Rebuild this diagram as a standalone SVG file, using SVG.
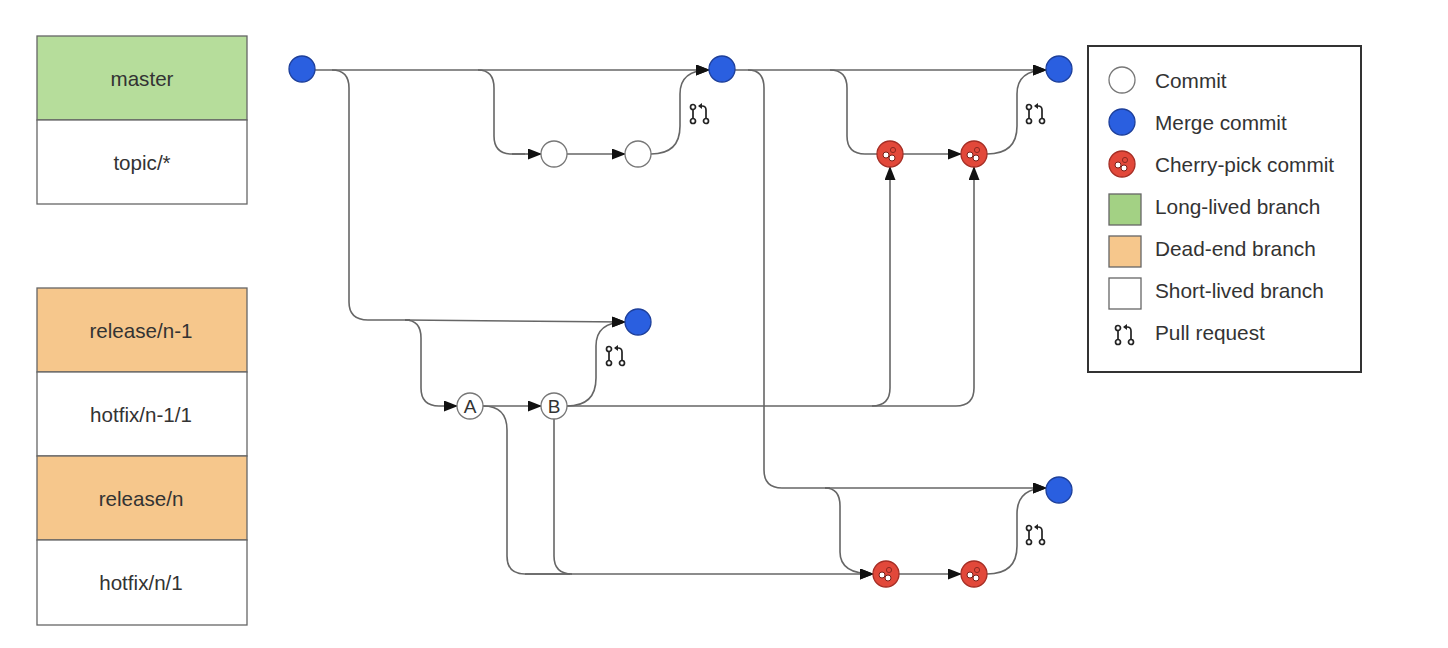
<svg xmlns="http://www.w3.org/2000/svg" width="1448" height="648" viewBox="0 0 1448 648">
<style>
text{font-family:"Liberation Sans",Arial,sans-serif;font-size:20.6px;fill:#333}
.m{text-anchor:middle}
.b{stroke:#666;stroke-width:1.3}
.g{fill:#b6dd9b}.o{fill:#f6c78c}.w{fill:#fff}
.c{fill:none;stroke:#666;stroke-width:1.6}
.a{marker-end:url(#ah)}
.merge{fill:#2a5fe0;stroke:#1d3f9a;stroke-width:1.3}
.commit{fill:#fff;stroke:#777;stroke-width:1.3}
.lt{font-size:20.8px;fill:#333}
</style>
<defs>
<marker id="ah" markerUnits="userSpaceOnUse" markerWidth="14" markerHeight="11" refX="13" refY="5.500" orient="auto"><path d="M0 0L14 5.500L0 11Z" fill="#111"/></marker>
<g id="cherry"><circle r="13" fill="#e2483a" stroke="#a52e25" stroke-width="1.3"/><circle cx="-4" cy="1" r="3" fill="#fff" stroke="#7a1f18"/><circle cx="2" cy="4" r="3" fill="#fff" stroke="#7a1f18"/><circle cx="3" cy="-4" r="2.6" fill="none" stroke="#8f2a22"/></g>
<g id="pr" fill="none" stroke="#222" stroke-width="1.7"><circle cx="-7" cy="-7" r="2.5" fill="#fff"/><circle cx="-7" cy="7" r="2.5" fill="#fff"/><circle cx="6" cy="7" r="2.5" fill="#fff"/><path d="M-7 -4.500V4.500M6 4.500V-4Q6 -8 2 -8H-1"/><path d="M-2 -8L2 -11V-5Z" fill="#222" stroke="none"/></g>
</defs>

<g id="connectors">
<path class="c a" d="M315 70H709"/>
<path class="c" d="M332 70Q349 70 349 88V302Q349 320 368 320H410"/>
<path class="c a" d="M405 320L625 322"/>
<path class="c" d="M478 70Q494 70 494 88V136Q494 154 512 154H525"/>
<path class="c a" d="M512 154H541"/>
<path class="c a" d="M567 154H625"/>
<path class="c a" d="M651 154Q680 154 680 126V94Q680 70 709 70"/>
<path class="c a" d="M735 70H1046"/>
<path class="c" d="M748 70Q764 70 764 88V470Q764 488 782 488H830"/>
<path class="c a" d="M825 488H1046"/>
<path class="c" d="M830 70Q847 70 847 88V136Q847 154 865 154H877"/>
<path class="c a" d="M903 154H961"/>
<path class="c a" d="M987 154Q1017 154 1017 126V94Q1017 70 1046 70"/>
<path class="c a" d="M405 320Q421 320 421 338V388Q421 406 439 406H457"/>
<path class="c a" d="M483 406H541"/>
<path class="c a" d="M567 406Q596 406 596 378V346Q596 322 625 322"/>
<path class="c a" d="M567 406H872Q890 406 890 388V167"/>
<path class="c a" d="M872 406H956Q974 406 974 388V167"/>
<path class="c" d="M483 406Q507 406 507 430V556Q507 574 525 574H570"/>
<path class="c" d="M554 419V556Q554 574 572 574"/>
<path class="c a" d="M525 574H873"/>
<path class="c a" d="M825 488Q840 488 840 506V552Q840 574 873 574"/>
<path class="c a" d="M899 574H961"/>
<path class="c a" d="M987 574Q1017 574 1017 546V514Q1017 488 1046 488"/>
</g>

<g id="branch-master"><rect class="b g" x="37" y="36" width="210" height="84"/><text class="m" x="142" y="86">master</text></g>
<g id="branch-topic"><rect class="b w" x="37" y="120" width="210" height="84"/><text class="m" x="142" y="170">topic/*</text></g>
<g id="branch-release-n-1"><rect class="b o" x="37" y="288" width="210" height="84"/><text class="m" x="141" y="338">release/n-1</text></g>
<g id="branch-hotfix-n-1"><rect class="b w" x="37" y="372" width="210" height="84"/><text class="m" x="141" y="422">hotfix/n-1/1</text></g>
<g id="branch-release-n"><rect class="b o" x="37" y="456" width="210" height="84"/><text class="m" x="141" y="506">release/n</text></g>
<g id="branch-hotfix-n"><rect class="b w" x="37" y="540" width="210" height="85"/><text class="m" x="141" y="590">hotfix/n/1</text></g>

<g id="merge-1"><circle class="merge" cx="302" cy="69" r="13"/></g>
<g id="merge-2"><circle class="merge" cx="722" cy="69" r="13"/></g>
<g id="merge-3"><circle class="merge" cx="1059" cy="69" r="13"/></g>
<g id="merge-4"><circle class="merge" cx="638" cy="322" r="13"/></g>
<g id="merge-5"><circle class="merge" cx="1059" cy="490" r="13"/></g>
<g id="commit-1"><circle class="commit" cx="554" cy="154" r="13"/></g>
<g id="commit-2"><circle class="commit" cx="638" cy="154" r="13"/></g>
<g id="commit-A"><circle class="commit" cx="470" cy="406" r="13"/><text class="m" x="470" y="413" style="font-size:19px">A</text></g>
<g id="commit-B"><circle class="commit" cx="554" cy="406" r="13"/><text class="m" x="554" y="413" style="font-size:19px">B</text></g>
<g id="cherry-1"><use href="#cherry" x="890" y="154"/></g>
<g id="cherry-2"><use href="#cherry" x="974" y="154"/></g>
<g id="cherry-3"><use href="#cherry" x="886" y="574"/></g>
<g id="cherry-4"><use href="#cherry" x="974" y="574"/></g>
<g id="pr-1"><use href="#pr" x="700" y="114"/></g>
<g id="pr-2"><use href="#pr" x="1036" y="114"/></g>
<g id="pr-3"><use href="#pr" x="616" y="356"/></g>
<g id="pr-4"><use href="#pr" x="1036" y="535"/></g>

<g id="legend">
<rect x="1088" y="46" width="273" height="326" fill="#fff" stroke="#333" stroke-width="2"/>
<circle class="commit" cx="1122" cy="80" r="13"/><text class="lt" x="1155" y="88">Commit</text>
<circle class="merge" cx="1122" cy="122" r="13"/><text class="lt" x="1155" y="130">Merge commit</text>
<use href="#cherry" x="1122" y="164"/><text class="lt" x="1155" y="172">Cherry-pick commit</text>
<rect class="b g" x="1109" y="194" width="32" height="31" style="fill:#a3d184"/><text class="lt" x="1155" y="214">Long-lived branch</text>
<rect class="b o" x="1109" y="236" width="32" height="31"/><text class="lt" x="1155" y="256">Dead-end branch</text>
<rect class="b w" x="1109" y="278" width="32" height="31"/><text class="lt" x="1155" y="298">Short-lived branch</text>
<use href="#pr" x="1125" y="335"/><text class="lt" x="1155" y="340">Pull request</text>
</g>
</svg>
